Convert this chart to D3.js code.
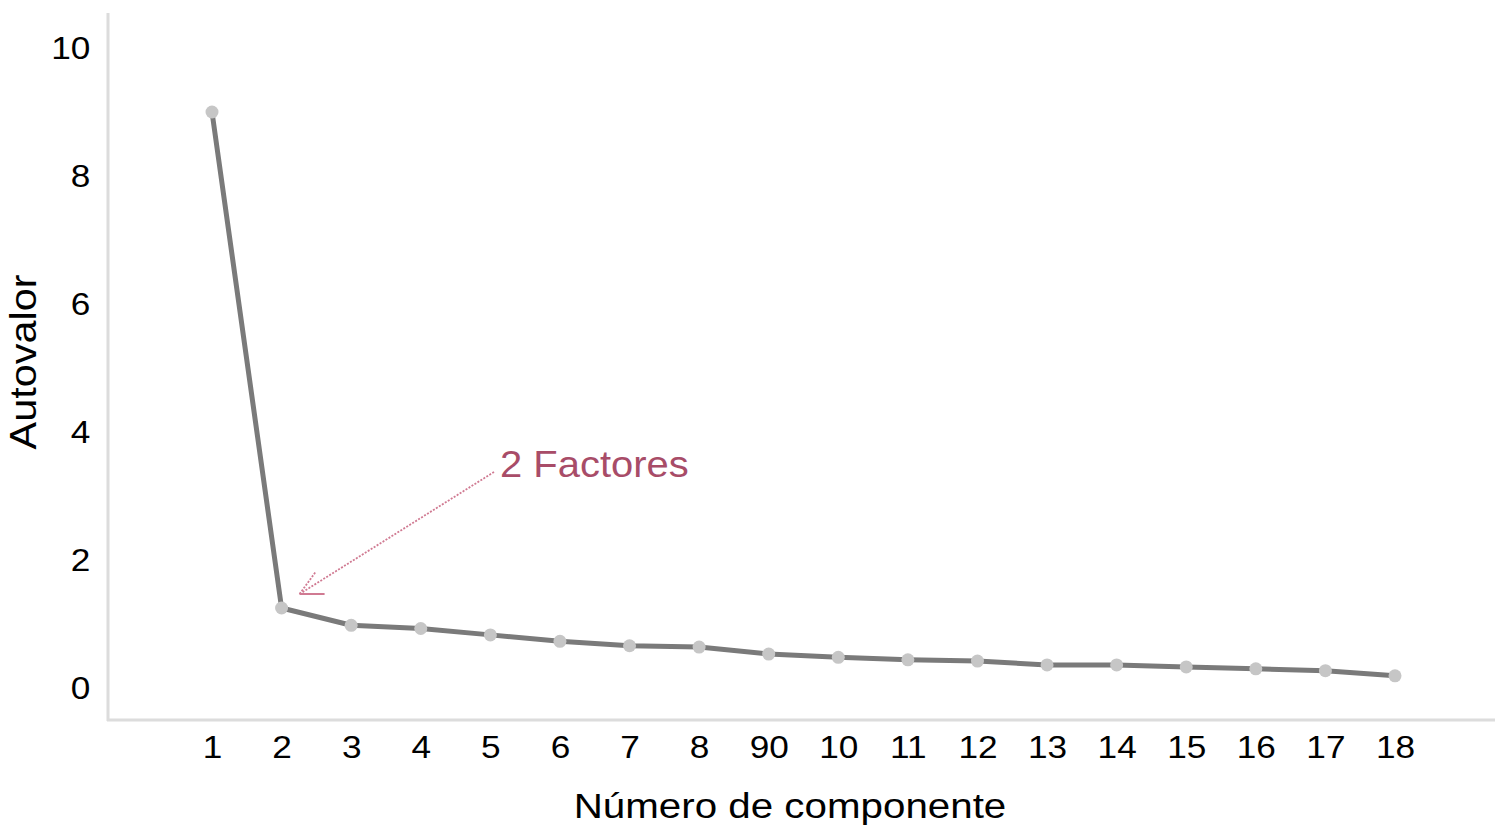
<!DOCTYPE html>
<html>
<head>
<meta charset="utf-8">
<script src="https://cdn.jsdelivr.net/npm/d3@7"></script>
<style>
  body { margin: 0; background: #fff; }
  svg text { font-family: "Liberation Sans", Arial, Helvetica, sans-serif; }
</style>
</head>
<body>
<script>
// datos del gráfico de sedimentación
var componentes = [1,2,3,4,5,6,7,8,9,10,11,12,13,14,15,16,17,18];
var etiquetas = ['1','2','3','4','5','6','7','8','90','10','11','12','13','14','15','16','17','18'];
var autovalores = [9.0, 1.25, 0.98, 0.93, 0.83, 0.73, 0.66, 0.64, 0.53, 0.48, 0.44, 0.42, 0.36, 0.36, 0.33, 0.30, 0.27, 0.19];
var yTicks = [0, 2, 4, 6, 8, 10];
var nota = '2 Factores';

var w = 1505;
var h = 828;
var sx = 1.1; // texto algo ensanchado en el original

var svg = d3.select('body')
  .append('svg')
  .attr('width', w)
  .attr('height', h);

var xScale = d3.scaleLinear()
  .domain([1, 18])
  .range([212, 1395]);

var yScale = d3.scaleLinear()
  .domain([0, 10])
  .range([688, 48]);

// ejes (líneas grises claras)
svg.append('line')
  .attr('x1', 108).attr('x2', 108)
  .attr('y1', 13).attr('y2', 721)
  .attr('stroke', '#dcdcdc')
  .attr('stroke-width', 3);

svg.append('line')
  .attr('x1', 107).attr('x2', 1495)
  .attr('y1', 720).attr('y2', 720)
  .attr('stroke', '#dcdcdc')
  .attr('stroke-width', 3);

var yAxis = d3.axisLeft(yScale)
  .tickValues(yTicks)
  .tickSize(0)
  .tickPadding(16)
  .tickFormat(d3.format('d'));

var gy = svg.append('g')
  .attr('transform', 'translate(108,0)')
  .call(yAxis);
gy.select('.domain').remove();
gy.selectAll('text')
  .attr('font-size', 32)
  .attr('fill', '#000')
  .attr('font-family', '"Liberation Sans", Arial, sans-serif')
  .attr('transform', 'scale(' + sx + ',1)');

var xAxis = d3.axisBottom(xScale)
  .tickValues(componentes)
  .tickSize(0)
  .tickPadding(15)
  .tickFormat(function(d, i){ return etiquetas[i]; });

var gx = svg.append('g')
  .attr('transform', 'translate(0,720)')
  .call(xAxis);
gx.select('.domain').remove();
gx.selectAll('text')
  .attr('font-size', 32)
  .attr('fill', '#000')
  .attr('font-family', '"Liberation Sans", Arial, sans-serif')
  .attr('transform', 'scale(' + sx + ',1)');

// línea de autovalores
var line = d3.line()
  .x(function(d, i){ return xScale(componentes[i]); })
  .y(function(d){ return yScale(d); });

svg.append('path')
  .datum(autovalores)
  .attr('d', line)
  .attr('fill', 'none')
  .attr('stroke', '#7a7a7a')
  .attr('stroke-width', 5)
  .attr('stroke-linejoin', 'round');

svg.selectAll('circle')
  .data(autovalores)
  .enter()
  .append('circle')
  .attr('cx', function(d, i){ return xScale(componentes[i]); })
  .attr('cy', function(d){ return yScale(d); })
  .attr('r', 6.5)
  .attr('fill', '#c6c6c6');

// anotación
var tipX = xScale(2) + 18;
var tipY = yScale(autovalores[1]) - 14;
var pink = '#d07a92';

svg.append('line')
  .attr('x1', 494).attr('y1', 472)
  .attr('x2', tipX).attr('y2', tipY)
  .attr('stroke', pink)
  .attr('stroke-width', 1.8)
  .attr('stroke-dasharray', '2,1.5');

svg.append('line')
  .attr('x1', tipX).attr('y1', tipY)
  .attr('x2', tipX + 16).attr('y2', tipY - 22)
  .attr('stroke', pink)
  .attr('stroke-width', 1.8)
  .attr('stroke-dasharray', '2,1.5');

svg.append('line')
  .attr('x1', tipX).attr('y1', tipY)
  .attr('x2', tipX + 25).attr('y2', tipY)
  .attr('stroke', pink)
  .attr('stroke-width', 2);

svg.append('text')
  .attr('transform', 'translate(500,477) scale(1.08,1)')
  .attr('font-size', 37)
  .attr('fill', '#a84c68')
  .text(nota);

// títulos de ejes
svg.append('text')
  .attr('transform', 'translate(790,818) scale(1.12,1)')
  .attr('text-anchor', 'middle')
  .attr('font-size', 36)
  .attr('fill', '#000')
  .text('Número de componente');

svg.append('text')
  .attr('transform', 'translate(36,362) rotate(-90) scale(1.12,1)')
  .attr('text-anchor', 'middle')
  .attr('font-size', 37)
  .attr('fill', '#000')
  .text('Autovalor');
</script>
</body>
</html>
